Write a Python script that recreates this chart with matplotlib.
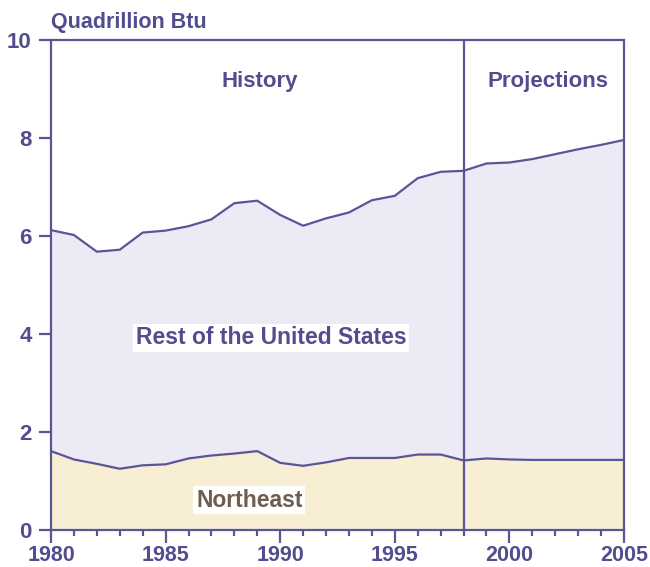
# Northeast vs rest of US energy consumption, history and projections

import numpy as np
import matplotlib
matplotlib.use('Agg')
import matplotlib.pyplot as plt
from matplotlib.ticker import MultipleLocator

plt.rcParams['font.family'] = ['Liberation Sans', 'DejaVu Sans']

# data (quadrillion Btu)
years = list(range(1980, 2006))
northeast = [1.61, 1.44, 1.35, 1.25, 1.32, 1.34, 1.46, 1.52, 1.56, 1.61,
             1.37, 1.31, 1.38, 1.47, 1.47, 1.47, 1.54, 1.54, 1.42, 1.46,
             1.44, 1.43, 1.43, 1.43, 1.43, 1.43]
rest_of_us = [4.51, 4.58, 4.33, 4.47, 4.75, 4.77, 4.74, 4.82, 5.11, 5.11,
              5.06, 4.90, 4.98, 5.01, 5.26, 5.35, 5.64, 5.77, 5.91, 6.02,
              6.06, 6.14, 6.24, 6.34, 6.43, 6.53]
split_year = 1998
x_ticks = [1980, 1985, 1990, 1995, 2000, 2005]
y_ticks = [0, 2, 4, 6, 8, 10]

# colours
line_col = '#5b5597'
text_col = '#524d8f'
lavender = '#ecebf5'
beige = '#f8eed3'
brown = '#6e5d50'

ne = np.array(northeast)
total = ne + np.array(rest_of_us)

fig = plt.figure(figsize=(6.5, 5.67), dpi=100)
ax = fig.add_axes([51 / 650, 1 - 530 / 567, 573 / 650, 490 / 567])

ax.fill_between(years, 0, ne, color=beige, lw=0)
ax.fill_between(years, ne, total, color=lavender, lw=0)
ax.plot(years, ne, color=line_col, lw=1.6)
ax.plot(years, total, color=line_col, lw=1.6)
ax.axvline(split_year, color=line_col, lw=1.6)

ax.set_xlim(1980, 2005)
ax.set_ylim(0, 10)
ax.set_xticks(x_ticks)
ax.xaxis.set_minor_locator(MultipleLocator(1))
ax.set_yticks(y_ticks)

for s in ax.spines.values():
    s.set_color(line_col)
    s.set_linewidth(1.6)

ax.tick_params(axis='x', which='major', length=9, width=1.6, color=line_col,
               labelcolor=text_col, labelsize=15.5, pad=1.5)
ax.tick_params(axis='x', which='minor', length=4, width=1.6, color=line_col)
ax.tick_params(axis='y', length=9, width=1.6, color=line_col,
               labelcolor=text_col, labelsize=16, pad=5)
for lab in ax.get_xticklabels() + ax.get_yticklabels():
    lab.set_fontweight('bold')

# labels
ax.text(0.0, 1.025, 'Quadrillion Btu', transform=ax.transAxes, ha='left', va='baseline',
        fontsize=15.5, fontweight='bold', color=text_col)
ax.text(1989.1, 9.15, 'History', ha='center', va='center',
        fontsize=16, fontweight='bold', color=text_col)
ax.text(2001.7, 9.15, 'Projections', ha='center', va='center',
        fontsize=16, fontweight='bold', color=text_col)
ax.text(1989.6, 3.92, 'Rest of the United States', ha='center', va='center',
        fontsize=16.5, fontweight='bold', color=text_col,
        bbox=dict(facecolor='white', edgecolor='none', pad=2))
ax.text(1988.65, 0.61, 'Northeast', ha='center', va='center',
        fontsize=16.5, fontweight='bold', color=brown,
        bbox=dict(facecolor='white', edgecolor='none', pad=2))

plt.savefig('out.png', dpi=100)
